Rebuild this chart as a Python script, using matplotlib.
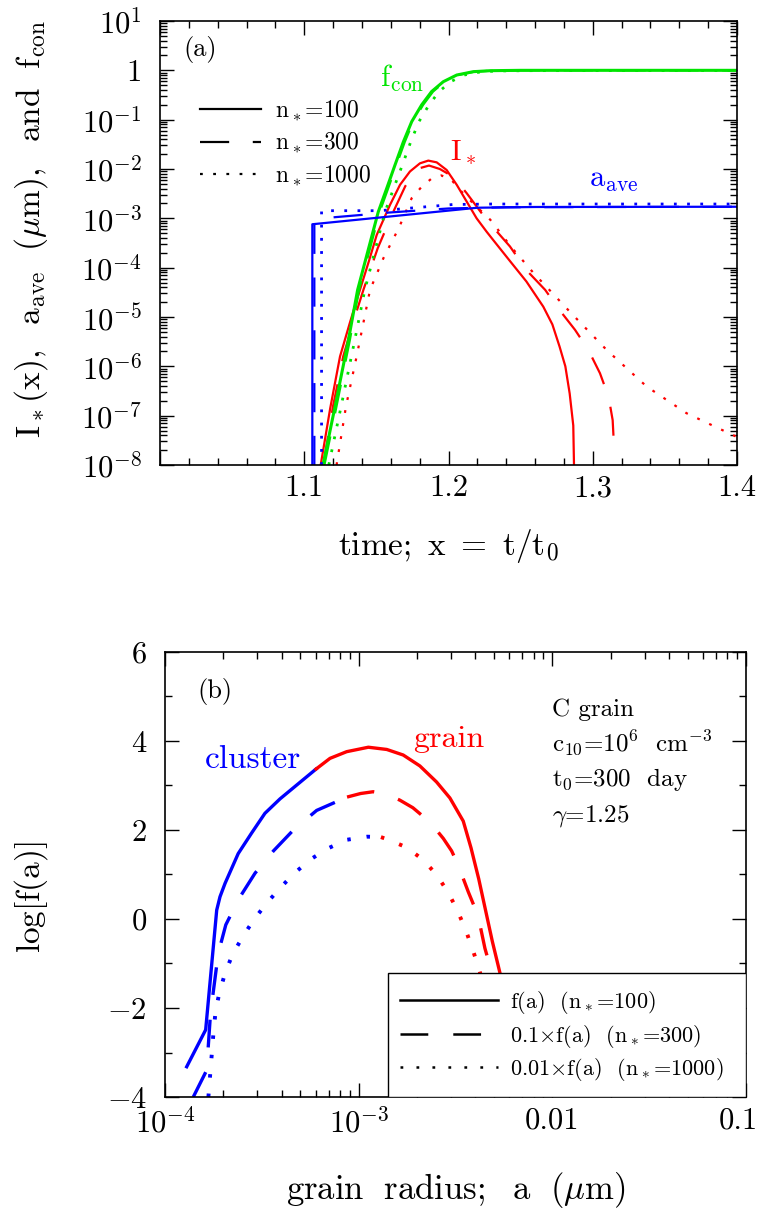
import matplotlib
matplotlib.use('Agg')
import matplotlib.pyplot as plt
import numpy as np
from matplotlib.lines import Line2D
from matplotlib.patches import Rectangle
from matplotlib.transforms import ScaledTranslation
from matplotlib.ticker import FixedLocator, LogLocator, MultipleLocator, FuncFormatter, NullFormatter

plt.rcParams['font.family'] = ['cmr10', 'DejaVu Serif']
plt.rcParams['mathtext.fontset'] = 'cm'
plt.rcParams['lines.scale_dashes'] = False
plt.rcParams['axes.formatter.use_mathtext'] = True

# ---- panel (a): time evolution, t/t0 and log10 of value ----
istar100_t = [1.1114, 1.118, 1.1248, 1.1318, 1.1386, 1.145, 1.1502, 1.1594, 1.1664, 1.1733,
              1.1802, 1.186, 1.1918, 1.1987, 1.2057, 1.2126, 1.2195, 1.2264, 1.231, 1.243,
              1.254, 1.2657, 1.272, 1.277, 1.281, 1.284, 1.2865, 1.287]
istar100_v = [-8, -6.85, -5.8, -5.1, -4.45, -3.85, -3.34, -2.73, -2.32, -2.05,
              -1.885, -1.83, -1.865, -2.02, -2.32, -2.66, -3.0, -3.27, -3.44, -3.88,
              -4.28, -4.79, -5.15, -5.6, -6.0, -6.55, -7.2, -8]
istar300_t = [1.1133, 1.12, 1.127, 1.134, 1.141, 1.151, 1.1617, 1.170, 1.178, 1.1865,
              1.194, 1.2034, 1.2126, 1.2195, 1.2264, 1.2426, 1.254, 1.267, 1.277, 1.2877,
              1.297, 1.305, 1.311, 1.3138, 1.3147]
istar300_v = [-8, -6.8, -5.8, -5.1, -4.45, -3.6, -2.87, -2.35, -2.0, -1.93,
              -2.0, -2.16, -2.49, -2.76, -3.03, -3.57, -4.05, -4.45, -4.86, -5.26,
              -5.67, -6.14, -6.62, -7.09, -7.6]
istar1000_t = [1.1224, 1.129, 1.1363, 1.1456, 1.155, 1.1655, 1.1745, 1.1814, 1.188, 1.195,
               1.202, 1.210, 1.219, 1.229, 1.244, 1.259, 1.284, 1.3097, 1.3374, 1.365, 1.3998]
istar1000_v = [-8, -6.8, -5.8, -4.45, -3.8, -3.2, -2.59, -2.36, -2.2, -2.13,
               -2.22, -2.49, -2.75, -3.03, -3.6, -4.11, -4.89, -5.67, -6.41, -6.95, -7.43]

fcon100_t = [1.113, 1.1213, 1.1306, 1.137, 1.1513, 1.1572, 1.1629, 1.1687, 1.1745, 1.1814,
             1.1883, 1.1964, 1.2057, 1.2172, 1.229, 1.25, 1.4]
fcon100_v = [-8, -6.82, -5.47, -4.45, -2.87, -2.39, -1.92, -1.45, -1.04, -0.70,
             -0.43, -0.23, -0.095, -0.027, -0.007, 0.0, 0.0]
fcon300_t = [1.114, 1.1223, 1.1316, 1.138, 1.1523, 1.1582, 1.1639, 1.1697, 1.1755, 1.1824,
             1.1893, 1.1974, 1.2067, 1.2182, 1.230, 1.25, 1.4]
fcon300_v = [-8, -6.82, -5.47, -4.45, -2.87, -2.39, -1.92, -1.45, -1.04, -0.70,
             -0.43, -0.23, -0.095, -0.027, -0.007, 0.0, 0.0]
fcon1000_t = [1.117, 1.1255, 1.135, 1.142, 1.156, 1.162, 1.168, 1.1738, 1.1795, 1.1865,
              1.1935, 1.2015, 1.211, 1.2225, 1.235, 1.26, 1.4]
fcon1000_v = [-8, -6.82, -5.47, -4.45, -2.87, -2.39, -1.92, -1.45, -1.04, -0.70,
              -0.43, -0.23, -0.095, -0.03, -0.012, -0.006, -0.004]

aave100_t = [1.1056, 1.1056, 1.22, 1.26, 1.4]
aave100_v = [-8, -3.12, -2.785, -2.77, -2.765]
aave300_t = [1.107, 1.107, 1.112, 1.16, 1.20, 1.24, 1.4]
aave300_v = [-8, -3.05, -3.0, -2.88, -2.80, -2.775, -2.765]
aave1000_t = [1.112, 1.112, 1.1525, 1.203, 1.23, 1.4]
aave1000_v = [-8, -2.845, -2.845, -2.72, -2.71, -2.71]

# ---- panel (b): size distribution, log10(a/um) and log10 f(a) ----
clus100_a = [-3.888, -3.79, -3.733, -3.716, -3.69, -3.622, -3.553, -3.484, -3.406, -3.32, -3.22]
clus100_f = [-3.32, -2.49, 0.20, 0.50, 0.80, 1.47, 1.93, 2.375, 2.70, 3.01, 3.37]
grain100_a = [-3.22, -3.148, -3.062, -2.95, -2.855, -2.77, -2.684, -2.598, -2.529, -2.46,
              -2.42, -2.38, -2.345, -2.31, -2.27, -2.23]
grain100_f = [3.37, 3.61, 3.76, 3.86, 3.81, 3.685, 3.44, 3.08, 2.72, 2.2,
              1.6, 0.9, 0.2, -0.5, -1.22, -2.2]
clus300_a = [-3.854, -3.785, -3.765, -3.725, -3.686, -3.618, -3.535, -3.44, -3.337, -3.217, -3.06]
clus300_f = [-4.0, -3.40, -2.12, -0.77, -0.13, 0.46, 1.03, 1.53, 2.0, 2.44, 2.74]
grain300_a = [-3.06, -2.99, -2.925, -2.86, -2.787, -2.72, -2.66, -2.61, -2.563, -2.52,
              -2.486, -2.434, -2.40, -2.379, -2.348, -2.314, -2.28]
grain300_f = [2.74, 2.82, 2.86, 2.81, 2.67, 2.50, 2.28, 2.06, 1.81, 1.53,
              1.21, 0.61, 0.25, -0.02, -0.66, -1.18, -2.0]
clus1000_a = [-3.776, -3.767, -3.75, -3.739, -3.72, -3.69, -3.651, -3.596, -3.539, -3.472,
              -3.403, -3.329, -3.245, -3.157, -3.062, -2.956, -2.885]
clus1000_f = [-4.0, -3.51, -2.57, -2.08, -1.67, -1.22, -0.79, -0.38, 0.0, 0.37,
              0.71, 1.04, 1.35, 1.59, 1.78, 1.85, 1.84]
grain1000_a = [-2.885, -2.851, -2.753, -2.667, -2.597, -2.537, -2.49, -2.447, -2.412, -2.379, -2.35]
grain1000_f = [1.84, 1.79, 1.61, 1.33, 0.99, 0.59, 0.19, -0.25, -0.68, -1.11, -1.6]

legend_a = [r'n$_*$=100', r'n$_*$=300', r'n$_*$=1000']
legend_b = [r'f(a)  (n$_*$=100)', r'0.1$\times$f(a)  (n$_*$=300)',
            r'0.01$\times$f(a)  (n$_*$=1000)']
info = ['C grain', r'c$_{10}$=10$^6$  cm$^{-3}$', r't$_0$=300  day', r'$\gamma$=1.25']

RED, GREEN, BLUE = '#ff0000', '#00e400', '#0000ff'
dash_a = (0, (21, 17))
dot_a = (0, (2, 7.5))
dash_b = (0, (20, 18))
dot_b = (0, (2.5, 11.5))

fig = plt.figure(figsize=(7.61, 12.08), dpi=100)
ax1 = fig.add_axes([160 / 761, 1 - 465 / 1208, 577 / 761, 444 / 1208])
ax2 = fig.add_axes([165 / 761, 1 - 1097 / 1208, 581 / 761, 445 / 1208])


def tp(v):
    return 10.0 ** np.asarray(v)


lw = 1.6
ax1.plot(istar100_t, tp(istar100_v), color=RED, lw=lw)
ax1.plot(istar300_t, tp(istar300_v), color=RED, lw=lw, ls=dash_a)
ax1.plot(istar1000_t, tp(istar1000_v), color=RED, lw=lw, ls=dot_a)
ax1.plot(fcon100_t, tp(fcon100_v), color=GREEN, lw=lw + 0.6)
ax1.plot(fcon300_t, tp(fcon300_v), color=GREEN, lw=lw, ls=dash_a)
ax1.plot(fcon1000_t, tp(fcon1000_v), color=GREEN, lw=lw + 0.4, ls=dot_a)
ax1.plot(aave100_t, tp(aave100_v), color=BLUE, lw=lw)
ax1.plot(aave300_t, tp(aave300_v), color=BLUE, lw=lw, ls=dash_a)
ax1.plot(aave1000_t, tp(aave1000_v), color=BLUE, lw=lw + 0.4, ls=dot_a)

ax1.set_yscale('log')
ax1.set_xlim(1.0, 1.4)
ax1.set_ylim(1e-8, 1e1)
ax1.xaxis.set_major_locator(FixedLocator([1.0, 1.1, 1.2, 1.3, 1.4]))
ax1.xaxis.set_major_formatter(FuncFormatter(lambda v, p: '' if v < 1.05 else '%.1f' % v))
ax1.xaxis.set_minor_locator(MultipleLocator(0.02))
ax1.yaxis.set_major_locator(FixedLocator(10.0 ** np.arange(-8, 2)))
ax1.yaxis.set_major_formatter(FuncFormatter(
    lambda v, p: '1' if abs(v - 1) < 1e-9 else r'$10^{%d}$' % round(np.log10(v))))
ax1.yaxis.set_minor_locator(LogLocator(base=10, subs=np.arange(2, 10), numticks=50))
ax1.yaxis.set_minor_formatter(NullFormatter())

h1 = [Line2D([], [], color='k', lw=1.6),
      Line2D([], [], color='k', lw=1.6, ls=dash_a),
      Line2D([], [], color='k', lw=1.6, ls=dot_a)]
ax1.legend(h1, legend_a, loc='upper left', bbox_to_anchor=(0.069, 0.824), frameon=False,
           fontsize=17, handlelength=2.6, handletextpad=0.6, borderpad=0, borderaxespad=0,
           labelspacing=0.35)

ax1.text(0.040, 0.935, '(a)', transform=ax1.transAxes, fontsize=19, va='center')
ax1.text(0.381, 0.851, r'$\mathrm{f_{con}}$', transform=ax1.transAxes, fontsize=22,
         color=GREEN, va='baseline')
ax1.text(0.503, 0.687, r'$\mathrm{I_*}$', transform=ax1.transAxes, fontsize=21,
         color=RED, va='baseline')
ax1.text(0.743, 0.626, r'$\mathrm{a_{ave}}$', transform=ax1.transAxes, fontsize=22,
         color=BLUE, va='baseline')

ax1.set_xlabel(r'$\mathrm{time;\ x\ =\ t/t_0}$', fontsize=24)
ax1.set_ylabel(r'$\mathrm{I_*(x),\ \ a_{ave}\ \ (\mu m),\ \ and\ \ f_{con}}$', fontsize=24)
ax1.xaxis.set_label_coords(0.5, -0.14)
ax1.yaxis.set_label_coords(-0.19, 0.53)

# panel (b)
lwb = 2.4
ax2.plot(tp(clus100_a), clus100_f, color=BLUE, lw=lwb)
ax2.plot(tp(grain100_a), grain100_f, color=RED, lw=lwb)
ax2.plot(tp(clus300_a), clus300_f, color=BLUE, lw=lwb, ls=dash_b)
ax2.plot(tp(grain300_a), grain300_f, color=RED, lw=lwb, ls=dash_b)
ax2.plot(tp(clus1000_a), clus1000_f, color=BLUE, lw=lwb + 0.4, ls=dot_b)
ax2.plot(tp(grain1000_a), grain1000_f, color=RED, lw=lwb + 0.4, ls=dot_b)

ax2.set_xscale('log')
ax2.set_xlim(1e-4, 0.1)
ax2.set_ylim(-4, 6)
ax2.xaxis.set_major_locator(FixedLocator([1e-4, 1e-3, 1e-2, 1e-1]))
ax2.xaxis.set_major_formatter(FuncFormatter(
    lambda v, p: {-4: r'$10^{-4}$', -3: r'$10^{-3}$', -2: '0.01', -1: '0.1'}[round(np.log10(v))]))
ax2.xaxis.set_minor_locator(LogLocator(base=10, subs=np.arange(2, 10), numticks=50))
ax2.xaxis.set_minor_formatter(NullFormatter())
ax2.yaxis.set_major_locator(MultipleLocator(2))
ax2.yaxis.set_minor_locator(MultipleLocator(1))
ax2.yaxis.set_major_formatter(FuncFormatter(lambda v, p: r'$%d$' % round(v)))

ax2.add_patch(Rectangle((0.384, 0.0), 0.616, 0.279, transform=ax2.transAxes,
                        facecolor='white', edgecolor='black', lw=1.0, zorder=3))
h2 = [Line2D([], [], color='k', lw=1.8),
      Line2D([], [], color='k', lw=1.8, ls=dash_b),
      Line2D([], [], color='k', lw=1.8, ls=(0, (2, 9.5)))]
leg2 = ax2.legend(h2, legend_b, loc='upper left', bbox_to_anchor=(0.404, 0.243), frameon=False,
                  fontsize=16, handlelength=4.4, handletextpad=0.55, borderpad=0,
                  borderaxespad=0, labelspacing=0.3)
leg2.set_zorder(4)

ax2.text(0.055, 0.912, '(b)', transform=ax2.transAxes, fontsize=19, va='center')
ax2.text(0.069, 0.739, 'cluster', transform=ax2.transAxes, fontsize=24, color=BLUE,
         va='baseline')
ax2.text(0.427, 0.787, 'grain', transform=ax2.transAxes, fontsize=23, color=RED,
         va='baseline')
for i, s in enumerate(info):
    ax2.text(0.666, 0.856 - 0.079 * i, s, transform=ax2.transAxes, fontsize=18,
             va='baseline')

ax2.set_xlabel(r'$\mathrm{grain\ \ radius;\ \ a\ \ (\mu m)}$', fontsize=25)
ax2.set_ylabel(r'$\mathrm{log[f(a)]}$', fontsize=24)
ax2.xaxis.set_label_coords(0.5, -0.165)
ax2.yaxis.set_label_coords(-0.198, 0.45)

for ax in (ax1, ax2):
    ax.tick_params(which='both', direction='in', top=True, right=True, width=1.0,
                   labelsize=22)
    ax.tick_params(which='major', length=10)
    ax.tick_params(which='minor', length=5)
    ax.tick_params(axis='x', which='major', pad=7)
    ax.tick_params(axis='y', which='major', pad=13)
    for s in ax.spines.values():
        s.set_linewidth(1.2)

# keep the last bottom tick label inside the canvas
last = ax2.xaxis.get_major_ticks()[3].label1
last.set_transform(last.get_transform() + ScaledTranslation(-8 / 100, 0, fig.dpi_scale_trans))

fig.savefig('out.png', dpi=100)
